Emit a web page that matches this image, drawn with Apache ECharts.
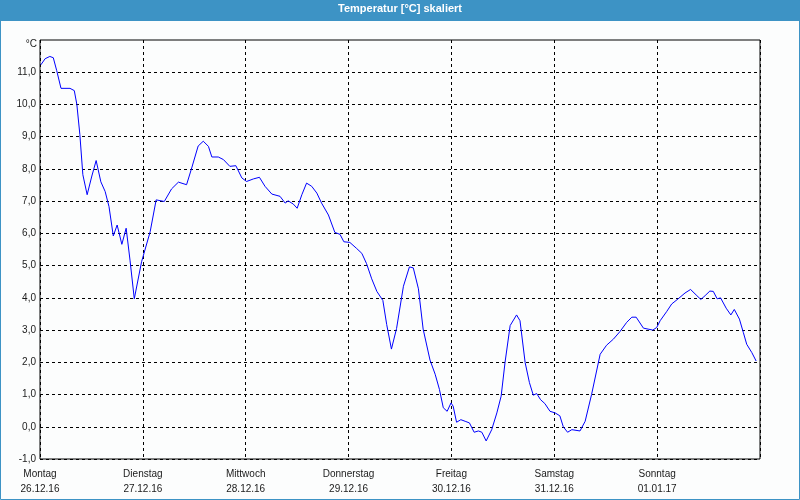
<!DOCTYPE html>
<html>
<head>
<meta charset="utf-8">
<script src="https://cdn.jsdelivr.net/npm/echarts@6/dist/echarts.min.js"></script>
<style>
html,body{margin:0;padding:0;background:#fcfdfd;}
#chart{width:800px;height:500px;}
</style>
</head>
<body>
<div id="chart"></div>
<script>
var chartTitle = 'Temperatur [°C] skaliert';
var unitLabel = '°C';
var dayNames = ['Montag','Dienstag','Mittwoch','Donnerstag','Freitag','Samstag','Sonntag'];
var dayDates = ['26.12.16','27.12.16','28.12.16','29.12.16','30.12.16','31.12.16','01.01.17'];
// hours since Montag 26.12.16 00:00
var hours = [0.2,1.2,2.3,3.1,3.9,4.9,7.0,8.0,8.6,9.3,10.0,11.0,12.1,13.1,14.2,15.2,16.1,17.1,18.0,19.1,20.1,21.0,22.0,23.7,25.7,27.1,29.0,30.7,32.3,34.2,35.4,36.9,38.1,39.3,40.1,41.6,42.8,44.3,45.7,47.1,48.2,49.8,51.2,52.5,54.1,56.0,57.2,57.9,59.1,60.0,61.1,62.2,63.4,64.6,65.7,67.3,68.8,70.0,70.9,72.3,73.9,75.1,76.2,77.4,78.6,80.0,80.9,82.0,83.2,84.8,86.2,87.1,88.3,89.4,91.0,92.2,93.2,94.1,95.0,95.9,96.4,97.2,98.2,99.2,100.2,101.3,102.3,103.1,104.1,105.4,106.6,107.6,108.5,109.7,111.2,112.0,113.2,114.2,115.1,115.9,116.8,117.8,119.0,120.2,121.3,122.1,123.1,124.1,126.0,127.2,128.7,130.7,132.2,133.8,135.3,136.9,138.1,139.1,140.8,141.9,143.0,143.9,144.7,146.2,147.4,148.9,150.5,151.8,153.1,154.2,155.2,156.3,157.1,158.0,158.8,160.1,161.2,162.0,163.2,164.1,164.9,166.1,167.1];
var temps = [11.23,11.42,11.49,11.45,11.05,10.5,10.5,10.43,10.0,9.07,7.82,7.2,7.78,8.26,7.6,7.3,6.83,5.92,6.26,5.66,6.16,5.17,3.97,5.12,6.05,7.04,6.99,7.38,7.59,7.51,8.03,8.71,8.86,8.7,8.37,8.37,8.29,8.08,8.1,7.72,7.61,7.69,7.74,7.46,7.22,7.15,6.94,7.01,6.91,6.78,7.2,7.56,7.46,7.25,6.94,6.57,6.03,5.97,5.74,5.72,5.53,5.38,5.06,4.59,4.2,3.92,3.17,2.41,3.05,4.36,4.96,4.93,4.28,3.03,2.07,1.63,1.16,0.59,0.48,0.74,0.64,0.14,0.22,0.17,0.12,-0.17,-0.13,-0.17,-0.44,-0.09,0.43,0.95,1.99,3.14,3.47,3.29,1.99,1.37,0.98,1.03,0.84,0.72,0.48,0.43,0.34,0.0,-0.17,-0.09,-0.13,0.17,1.0,2.25,2.53,2.72,2.95,3.24,3.4,3.4,3.06,3.03,3.0,3.08,3.29,3.57,3.81,3.97,4.15,4.26,4.09,3.95,4.07,4.21,4.2,3.97,4.0,3.68,3.47,3.64,3.34,2.93,2.56,2.3,2.04];

var seriesData = hours.map(function(h,i){ return [h, temps[i]]; });
var fontFam = '"Liberation Sans",Arial,sans-serif';
var titleFam = '"Liberation Sans",Arial,sans-serif';

var chart = echarts.init(document.getElementById('chart'));
chart.setOption({
  animation: false,
  backgroundColor: '#fcfdfd',
  graphic: [
    {type:'rect', shape:{x:0,y:0,width:800,height:21}, style:{fill:'#3d93c5'}, z:-1},
    {type:'rect', shape:{x:0.5,y:0.5,width:799,height:499}, style:{fill:null, stroke:'#3d93c5', lineWidth:1}, z:-1},
    {type:'text', left:'center', top:3, style:{text:chartTitle, fill:'#ffffff', font:'bold 11px ' + titleFam}}
  ],
  grid: {left:40, right:40, top:40, bottom:41, show:true, borderColor:'#000', borderWidth:1, backgroundColor:'transparent'},
  xAxis: {
    type:'value', min:0, max:168, interval:24,
    axisLine:{show:false}, axisTick:{show:false},
    splitLine:{show:true, lineStyle:{color:'#000', type:[3,3], width:1}},
    axisLabel:{
      margin:8, color:'#1a1a1a', fontFamily:fontFam, fontSize:10, lineHeight:15,
      formatter:function(v){ var i=Math.round(v/24); return i<dayNames.length ? dayNames[i]+'\n'+dayDates[i] : ''; }
    }
  },
  yAxis: {
    type:'value', min:-1, max:12, interval:1,
    name:unitLabel, nameLocation:'end', nameGap:-4,
    nameTextStyle:{align:'right', verticalAlign:'middle', color:'#1a1a1a', fontFamily:fontFam, fontSize:10, padding:[0,3,0,0]},
    axisLine:{show:false}, axisTick:{show:false},
    splitLine:{show:true, showMaxLine:false, lineStyle:{color:'#000', type:[3,3], width:1}},
    axisLabel:{
      margin:4, color:'#1a1a1a', fontFamily:fontFam, fontSize:10, showMaxLabel:false,
      formatter:function(v){ return v>11.5 ? '' : v.toFixed(1).replace('.',','); }
    }
  },
  series: [{
    type:'line', data:seriesData, showSymbol:false, symbol:'none',
    lineStyle:{color:'#0000ff', width:1}, clip:true
  }]
});
</script>
</body>
</html>
